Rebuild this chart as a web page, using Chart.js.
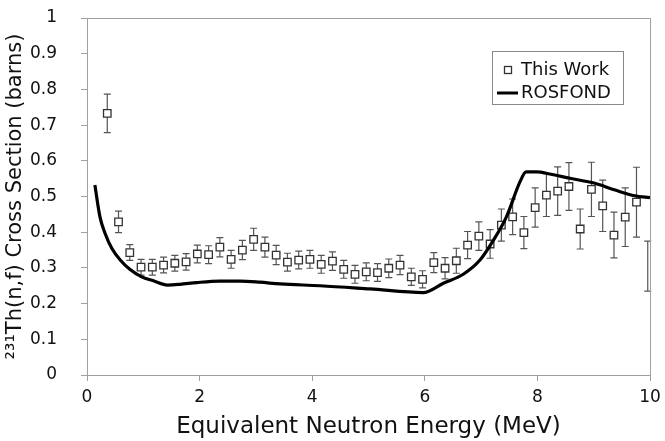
<!DOCTYPE html>
<html>
<head>
<meta charset="utf-8">
<script src="https://cdn.jsdelivr.net/npm/chart.js@4.4.0/dist/chart.umd.min.js"></script>
<style>
  html, body { margin: 0; padding: 0; background: #fff; }
  #wrap { width: 665px; height: 441px; }
</style>
</head>
<body>
<div id="wrap"><canvas id="xsChart" width="665" height="441"></canvas></div>
<script>
// measured points (MeV, barns) and their error half-widths
const energies = [0.36, 0.56, 0.76, 0.96, 1.16, 1.36, 1.56, 1.76, 1.96, 2.16,
  2.36, 2.56, 2.76, 2.96, 3.16, 3.36, 3.56, 3.76, 3.96, 4.16,
  4.36, 4.56, 4.76, 4.96, 5.16, 5.36, 5.56, 5.76, 5.96, 6.16,
  6.36, 6.56, 6.76, 6.96, 7.16, 7.36, 7.56, 7.76, 7.96, 8.16,
  8.36, 8.56, 8.76, 8.96, 9.16, 9.36, 9.56, 9.76, 9.96];
const thisWork = [0.733, 0.429, 0.343, 0.302, 0.302, 0.308, 0.313, 0.317, 0.339, 0.337,
  0.358, 0.324, 0.350, 0.380, 0.358, 0.336, 0.316, 0.322, 0.324, 0.310,
  0.319, 0.296, 0.282, 0.289, 0.287, 0.299, 0.308, 0.275, 0.268, 0.315,
  0.299, 0.320, 0.364, 0.389, 0.367, 0.420, 0.443, 0.399, 0.469, 0.504,
  0.515, 0.528, 0.409, 0.520, 0.474, 0.392, 0.442, 0.484, 0.305];
const thisWorkErr = [0.054, 0.030, 0.022, 0.022, 0.022, 0.022, 0.022, 0.023, 0.025, 0.025,
  0.027, 0.025, 0.027, 0.031, 0.028, 0.027, 0.025, 0.025, 0.025, 0.025,
  0.026, 0.025, 0.025, 0.025, 0.025, 0.026, 0.027, 0.024, 0.024, 0.028,
  0.030, 0.035, 0.038, 0.040, 0.040, 0.045, 0.050, 0.045, 0.055, 0.060,
  0.068, 0.067, 0.056, 0.076, 0.072, 0.064, 0.082, 0.098, 0.070];

// evaluated cross section curve
const rosfondE = [0.14, 0.23, 0.32, 0.44, 0.59, 0.76, 0.97, 1.18, 1.43, 1.65,
  1.95, 2.36, 2.72, 3.07, 3.43, 4.14, 5.03, 5.97, 6.33, 6.69,
  6.98, 7.22, 7.45, 7.69, 7.80, 7.99, 8.22, 8.58, 9.02, 9.38, 9.73, 10.0];
const rosfondXs = [0.532, 0.443, 0.397, 0.355, 0.322, 0.296, 0.275, 0.264, 0.252, 0.254,
  0.259, 0.263, 0.263, 0.260, 0.255, 0.250, 0.241, 0.231, 0.257, 0.283,
  0.322, 0.378, 0.443, 0.541, 0.569, 0.569, 0.563, 0.551, 0.537, 0.518, 0.502, 0.497];

const xTicks = [0, 2, 4, 6, 8, 10];
const yTicks = [0, 0.1, 0.2, 0.3, 0.4, 0.5, 0.6, 0.7, 0.8, 0.9, 1];

const axisGray = '#a0a0a0';
const fontFam = '"DejaVu Sans", Verdana, sans-serif';

// error bars go under the markers
const errorBars = {
  id: 'errorBars',
  beforeDatasetsDraw(chart) {
    const ctx = chart.ctx;
    const xs = chart.scales.x, ys = chart.scales.y;
    ctx.save();
    ctx.strokeStyle = '#555';
    ctx.lineWidth = 1.2;
    energies.forEach((e, i) => {
      const px = xs.getPixelForValue(e);
      const top = ys.getPixelForValue(thisWork[i] + thisWorkErr[i]);
      const bot = ys.getPixelForValue(thisWork[i] - thisWorkErr[i]);
      ctx.beginPath();
      ctx.moveTo(px, top); ctx.lineTo(px, bot);
      ctx.moveTo(px - 3.5, top); ctx.lineTo(px + 3.5, top);
      ctx.moveTo(px - 3.5, bot); ctx.lineTo(px + 3.5, bot);
      ctx.stroke();
    });
    ctx.restore();
  }
};

// grey frame round the plot area
const plotFrame = {
  id: 'plotFrame',
  beforeDatasetsDraw(chart) {
    const a = chart.chartArea, ctx = chart.ctx;
    ctx.save();
    ctx.strokeStyle = axisGray;
    ctx.lineWidth = 1;
    ctx.strokeRect(Math.round(a.left) + 0.5, Math.round(a.top) + 0.5,
      Math.round(a.right - a.left), Math.round(a.bottom - a.top));
    ctx.restore();
  }
};

// legend box inside the plot, like the original
const boxLegend = {
  id: 'boxLegend',
  afterDraw(chart) {
    const ctx = chart.ctx;
    ctx.save();
    ctx.fillStyle = '#fff';
    ctx.fillRect(492, 51, 131, 53);
    ctx.strokeStyle = '#888';
    ctx.lineWidth = 1;
    ctx.strokeRect(492.5, 51.5, 131, 53);
    // marker
    ctx.fillStyle = '#fff';
    ctx.strokeStyle = '#333';
    ctx.lineWidth = 1.3;
    ctx.strokeRect(504.5, 66.5, 7, 7);
    // line sample
    ctx.strokeStyle = '#000';
    ctx.lineWidth = 3;
    ctx.beginPath();
    ctx.moveTo(497, 93); ctx.lineTo(518, 93);
    ctx.stroke();
    ctx.fillStyle = '#111';
    ctx.font = '18px ' + fontFam;
    ctx.textBaseline = 'middle';
    ctx.fillText('This Work', 521, 70);
    ctx.fillText('ROSFOND', 521, 93);
    ctx.restore();
  }
};

const lastIdx = energies.length - 1;

new Chart(document.getElementById('xsChart'), {
  type: 'scatter',
  data: {
    datasets: [
      {
        label: 'ROSFOND',
        data: rosfondE.map((e, i) => ({ x: e, y: rosfondXs[i] })),
        showLine: true,
        borderColor: '#000',
        borderWidth: 3.2,
        pointRadius: 0,
        cubicInterpolationMode: 'monotone',
        order: 0
      },
      {
        label: 'This Work',
        data: energies.map((e, i) => ({ x: e, y: thisWork[i] })),
        pointStyle: 'rect',
        pointRadius: ctx => ctx.dataIndex === lastIdx ? 0 : 5.3,
        pointBackgroundColor: '#fff',
        pointBorderColor: '#333',
        pointBorderWidth: 1.3,
        order: 1
      }
    ]
  },
  options: {
    responsive: false,
    animation: false,
    devicePixelRatio: 1,
    layout: { padding: { left: 0, top: 18, right: 15, bottom: 0 } },
    plugins: {
      legend: { display: false },
      tooltip: { enabled: false }
    },
    scales: {
      x: {
        type: 'linear',
        min: 0, max: 10,
        afterBuildTicks: s => { s.ticks = xTicks.map(v => ({ value: v })); },
        afterFit: s => { s.height = 66; s.paddingLeft = 0; s.paddingRight = 0; },
        border: { color: axisGray },
        grid: { drawOnChartArea: false, color: axisGray, tickLength: 6 },
        ticks: { color: '#111', font: { family: fontFam, size: 17 }, padding: 6, maxRotation: 0 },
        title: {
          display: true,
          text: 'Equivalent Neutron Energy (MeV)',
          color: '#111',
          font: { family: fontFam, size: 23 },
          padding: { top: 0, bottom: 0 }
        }
      },
      y: {
        min: 0, max: 1,
        afterBuildTicks: s => { s.ticks = yTicks.map(v => ({ value: v })); },
        afterFit: s => { s.width = 87; s.paddingTop = 0; s.paddingBottom = 0; },
        border: { color: axisGray },
        grid: { drawOnChartArea: false, color: axisGray, tickLength: 6 },
        ticks: {
          color: '#111', font: { family: fontFam, size: 17 }, padding: 24,
          callback: v => String(Math.round(v * 10) / 10)
        },
        title: {
          display: true,
          text: '²³¹Th(n,f) Cross Section (barns)',
          color: '#111',
          font: { family: fontFam, size: 21 },
          padding: { top: 3, bottom: 0 }
        }
      }
    }
  },
  plugins: [errorBars, plotFrame, boxLegend]
});
</script>
</body>
</html>
